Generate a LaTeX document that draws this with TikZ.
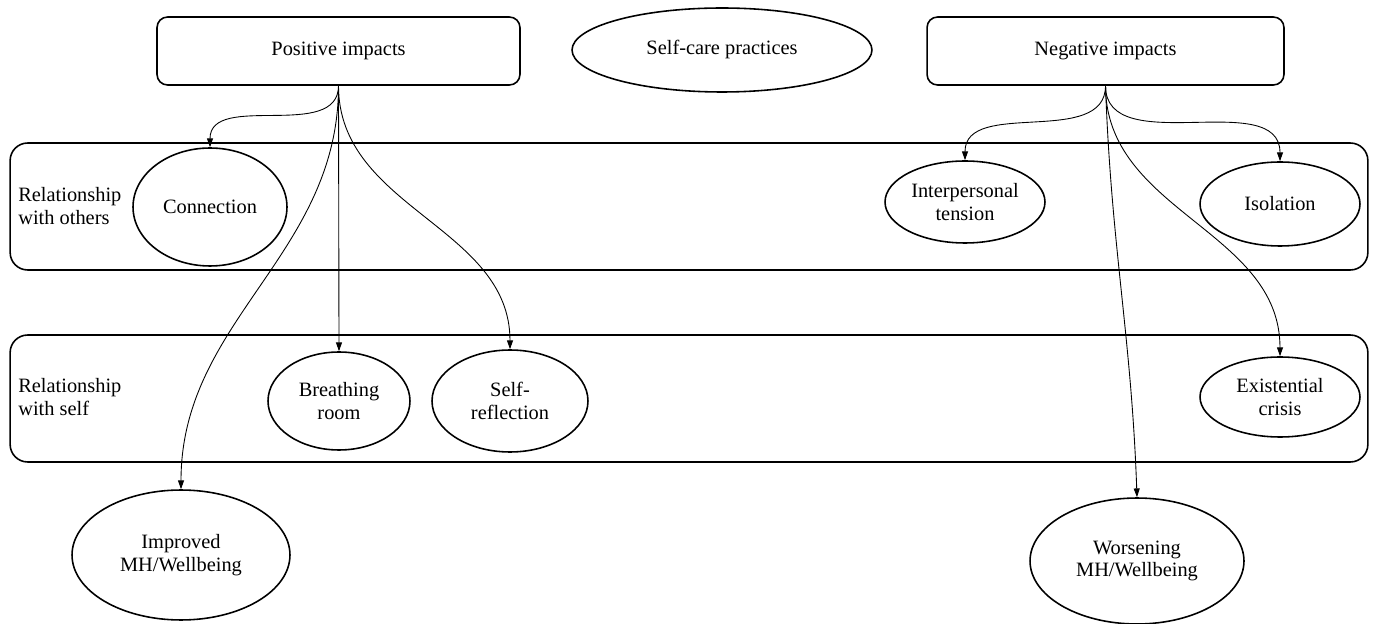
\documentclass[tikz,border=0pt]{standalone}
\usepackage{fontspec}
\setmainfont{Liberation Serif}
\usetikzlibrary{shapes.geometric,arrows.meta}
\begin{document}
\begin{tikzpicture}[x=0.02cm, y=-0.02cm,
    font=\fontsize{11.6}{12.8}\selectfont,
    impactbox/.style={draw, rounded corners=6pt, line width=0.9pt, minimum height=1.36cm},
    rowbox/.style={draw, rounded corners=10pt, line width=0.9pt, minimum width=27.16cm, minimum height=2.54cm},
    oval/.style={draw, ellipse, line width=0.9pt, align=center, inner sep=0pt},
    rowlabel/.style={anchor=west, align=left, inner sep=0pt},
    link/.style={-{Triangle[length=5pt, width=3.4pt]}, line width=0.5pt}]
    \useasboundingbox (0, 0) rectangle (1379, 624);
    % the two rows
    \node[rowbox] (rowothers) at (689, 206.5) {};
    \node[rowbox] (rowself) at (689, 398.5) {};
    \node[rowlabel] (othlabel) at (18, 206) {Relationship\\with others};
    \node[rowlabel] (selflabel) at (18, 397) {Relationship\\with self};
    % top line
    \node[impactbox, minimum width=7.26cm] (pos) at (338.5, 51) {Positive impacts};
    \node[oval, minimum width=6cm, minimum height=1.68cm] (selfcare) at (722, 50) {Self-care practices};
    \node[impactbox, minimum width=7.14cm] (neg) at (1105.5, 51) {Negative impacts};
    % ellipses
    \node[oval, minimum width=3.08cm, minimum height=2.36cm] (connection) at (210, 207) {Connection};
    \node[oval, minimum width=3.2cm, minimum height=1.64cm] (tension) at (965, 202) {Interpersonal\\tension};
    \node[oval, minimum width=3.2cm, minimum height=1.68cm] (isolation) at (1280, 204) {Isolation};
    \node[oval, minimum width=2.84cm, minimum height=1.96cm] (breathing) at (339, 401) {Breathing\\room};
    \node[oval, minimum width=3.12cm, minimum height=2.04cm] (reflection) at (510, 401) {Self-\\reflection};
    \node[oval, minimum width=3.2cm, minimum height=1.6cm] (crisis) at (1280, 397) {Existential\\crisis};
    \node[oval, minimum width=4.36cm, minimum height=2.6cm] (improved) at (181, 555) {Improved\\MH/Wellbeing};
    \node[oval, minimum width=4.28cm, minimum height=2.52cm] (worsening) at (1137, 561) {Worsening\\MH/Wellbeing};
    % arrows
    \draw[link] (pos.south) to[out=-90, in=90] (connection.north);
    \draw[link] (pos.south) to[out=-90, in=90] (improved.north);
    \draw[link] (pos.south) -- (breathing.north);
    \draw[link] (pos.south) to[out=-90, in=90] (reflection.north);
    \draw[link] (neg.south) to[out=-90, in=90] (tension.north);
    \draw[link] (neg.south) to[out=-90, in=90] (isolation.north);
    \draw[link] (neg.south) to[out=-90, in=90] (crisis.north);
    \draw[link] (neg.south) to[out=-88, in=92] (worsening.north);
\end{tikzpicture}
\end{document}
